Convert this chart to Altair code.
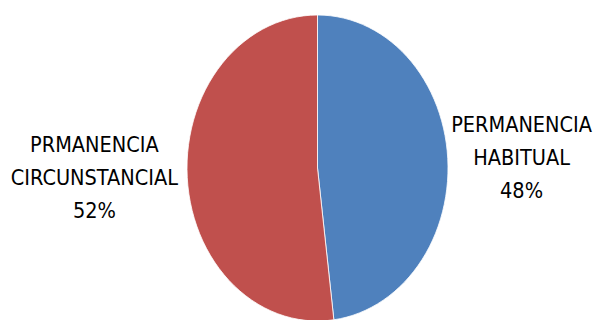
import altair as alt
import pandas as pd

labels = ["PERMANENCIA\nHABITUAL\n48%", "PRMANENCIA\nCIRCUNSTANCIAL\n52%"]
values = [48, 52]
colors = ["#4F81BD", "#C0504D"]
order = [0, 1]

df = pd.DataFrame({"label": labels, "value": values, "order": order})

xs = alt.Scale(domain=[-1, 1], range=[179, 440])
ys = alt.Scale(domain=[-1, 1], range=[313, 7])
cs = alt.Scale(domain=labels, range=colors)

base = (
    alt.Chart(df)
    .transform_joinaggregate(total="sum(value)")
    .transform_window(cum="sum(value)", sort=[alt.SortField("order")], frame=[None, 0])
    .transform_calculate(
        a1="2*PI*datum.cum/datum.total",
        a0="2*PI*(datum.cum-datum.value)/datum.total",
    )
)

pie = (
    base.transform_calculate(idx="sequence(0, 63)")
    .transform_flatten(["idx"])
    .transform_calculate(
        t="clamp((datum.idx-1)/60, 0, 1)",
        ang="datum.a0 + datum.t*(datum.a1-datum.a0)",
        edge="datum.idx==0 || datum.idx==62 ? 0 : 1",
    )
    .transform_calculate(
        px="datum.edge*sin(datum.ang)",
        py="datum.edge*cos(datum.ang)",
    )
    .mark_line(filled=True, stroke="white", strokeWidth=0.8, interpolate="linear")
    .encode(
        x=alt.X("px:Q", scale=xs, axis=None),
        y=alt.Y("py:Q", scale=ys, axis=None),
        fill=alt.Fill("label:N", scale=cs, legend=None),
        detail="label:N",
        order="idx:Q",
    )
)

text = (
    base.transform_calculate(
        mid="(datum.a0+datum.a1)/2",
    )
    .transform_calculate(
        lx="1.64*sin(datum.mid) - 0.073",
        ly="0.21 + 1.03*cos(datum.mid)",
    )
    .mark_text(
        font="DejaVu Sans Condensed, Liberation Sans, sans-serif",
        fontSize=21.5,
        lineHeight=33,
        align="center",
        baseline="middle",
        color="black",
        lineBreak="\n",
    )
    .encode(
        x=alt.X("lx:Q", scale=xs, axis=None),
        y=alt.Y("ly:Q", scale=ys, axis=None),
        text="label:N",
    )
)

chart = (
    alt.layer(pie, text)
    .properties(width=585, height=314, padding=0, autosize="none")
    .configure_view(stroke=None)
)

chart.save("out.html", embed_options={"renderer": "svg", "actions": False})
